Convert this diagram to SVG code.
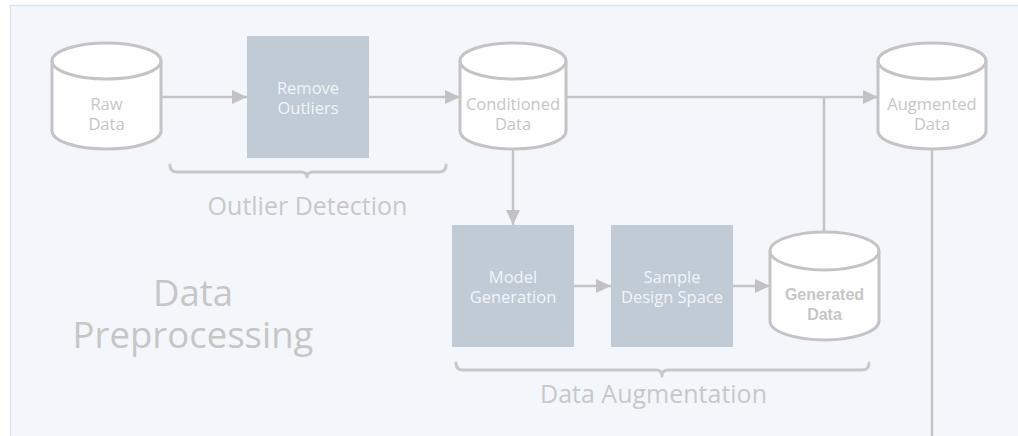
<svg xmlns="http://www.w3.org/2000/svg" width="1018" height="436" viewBox="0 0 1018 436">
  <defs>
    <marker id="arr" markerUnits="userSpaceOnUse" markerWidth="16" markerHeight="14" refX="15" refY="7" orient="auto">
      <path d="M0,0 L15,7 L0,14 Z" fill="#c2c2c2"/>
    </marker>
    <style>
      .cyl { fill: #ffffff; stroke: #c4c4c4; stroke-width: 3; }
      .cylf { fill: none; stroke: #c4c4c4; stroke-width: 3; }
      .box { fill: #c0cbd6; }
      .conn { fill: none; stroke: #c4c4c4; stroke-width: 2.5; }
      .brace { fill: none; stroke: #c8c8c8; stroke-width: 3; stroke-linecap: round; stroke-linejoin: round; }
      .ct { font-family: "Open Sans", "Noto Sans", sans-serif; font-size: 16.5px; fill: #c6c6c6; text-anchor: middle; }
      .gt { font-family: "Liberation Sans", Arial, sans-serif; font-weight: bold; font-size: 16px; fill: #c6c6c6; text-anchor: middle; }
      .bt { font-family: "Open Sans", "Noto Sans", sans-serif; font-size: 16.5px; fill: #f2f5f8; text-anchor: middle; }
      .lbl { font-family: "Open Sans", "Noto Sans", sans-serif; font-size: 25px; fill: #c8c8c8; text-anchor: middle; }
      .big { font-family: "Open Sans", "Noto Sans", sans-serif; font-size: 36.5px; fill: #c6c6c6; text-anchor: middle; }
    </style>
  </defs>

  <rect x="10.5" y="5.5" width="1030" height="450" fill="#f3f7fc" stroke="#dbe5f1" stroke-width="1.5"/>

  <g id="connectors">
    <path class="conn" d="M161,97 H247" marker-end="url(#arr)"/>
    <path class="conn" d="M369,97 H460" marker-end="url(#arr)"/>
    <path class="conn" d="M566,97 H878" marker-end="url(#arr)"/>
    <path class="conn" d="M513,149 V225" marker-end="url(#arr)"/>
    <path class="conn" d="M574,286 H611" marker-end="url(#arr)"/>
    <path class="conn" d="M733,286 H770" marker-end="url(#arr)"/>
    <path class="conn" d="M824,232 V97"/>
    <path class="conn" d="M932,149 V436"/>
  </g>

  <g id="raw-data">
    <path class="cyl" d="M52,61 A54.5,18 0 0 1 161,61 V131 A54.5,18 0 0 1 52,131 Z"/>
    <path class="cylf" d="M52,61 A54.5,18 0 0 0 161,61"/>
    <text class="ct" x="106.5" y="110">Raw</text>
    <text class="ct" x="106.5" y="130">Data</text>
  </g>

  <g id="remove-outliers">
    <rect class="box" x="247" y="36" width="122" height="122"/>
    <text class="bt" x="308" y="94">Remove</text>
    <text class="bt" x="308" y="114">Outliers</text>
  </g>

  <g id="conditioned-data">
    <path class="cyl" d="M460,61 A53,18 0 0 1 566,61 V131 A53,18 0 0 1 460,131 Z"/>
    <path class="cylf" d="M460,61 A53,18 0 0 0 566,61"/>
    <text class="ct" x="513" y="110">Conditioned</text>
    <text class="ct" x="513" y="130">Data</text>
  </g>

  <g id="augmented-data">
    <path class="cyl" d="M878,61 A54,18 0 0 1 986,61 V131 A54,18 0 0 1 878,131 Z"/>
    <path class="cylf" d="M878,61 A54,18 0 0 0 986,61"/>
    <text class="ct" x="932" y="110">Augmented</text>
    <text class="ct" x="932" y="130">Data</text>
  </g>

  <g id="model-generation">
    <rect class="box" x="452" y="225" width="122" height="122"/>
    <text class="bt" x="513" y="283">Model</text>
    <text class="bt" x="513" y="303">Generation</text>
  </g>

  <g id="sample-design-space">
    <rect class="box" x="611" y="225" width="122" height="122"/>
    <text class="bt" x="672" y="283">Sample</text>
    <text class="bt" x="672" y="303">Design Space</text>
  </g>

  <g id="generated-data">
    <path class="cyl" d="M770,251 A54.5,19 0 0 1 879,251 V321 A54.5,19 0 0 1 770,321 Z"/>
    <path class="cylf" d="M770,251 A54.5,19 0 0 0 879,251"/>
    <text class="gt" x="824.5" y="300">Generated</text>
    <text class="gt" x="824.5" y="320">Data</text>
  </g>

  <g id="outlier-detection">
    <path class="brace" d="M170,165 Q170,172 177,172 L301,172 Q307,172 307,177 Q307,172 313,172 L439,172 Q446,172 446,165"/>
    <text class="lbl" x="307.5" y="215">Outlier Detection</text>
  </g>

  <g id="data-augmentation">
    <path class="brace" d="M456,363 Q456,370 463,370 L656,370 Q662,370 662,376 Q662,370 668,370 L862,370 Q869,370 869,363"/>
    <text class="lbl" x="653.5" y="403">Data Augmentation</text>
  </g>

  <g id="data-preprocessing">
    <text class="big" x="193" y="306">Data</text>
    <text class="big" x="193" y="348">Preprocessing</text>
  </g>
</svg>
